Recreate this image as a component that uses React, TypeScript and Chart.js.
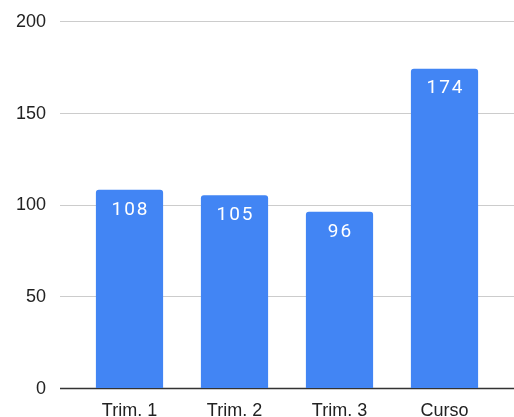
import React, { useEffect, useRef } from "react";
import { Chart, registerables } from "chart.js";

Chart.register(...registerables);

const categories = ["Trim. 1", "Trim. 2", "Trim. 3", "Curso"];
const values = [108, 105, 96, 174];
const yTicks = [0, 50, 100, 150, 200];

const BAR_COLOR = "#4285F4";

const fullGridPlugin = {
  id: "fullGrid",
  beforeDatasetsDraw(chart: any) {
    const { ctx, scales, width } = chart;
    const y = scales.y;
    const left = y.right - 17;
    ctx.save();
    yTicks.forEach((v) => {
      const py = Math.round(y.getPixelForValue(v)) + 0.5;
      ctx.beginPath();
      ctx.strokeStyle = v === 0 ? "#333333" : "#cccccc";
      ctx.lineWidth = v === 0 ? 1.5 : 1;
      ctx.moveTo(left, py);
      ctx.lineTo(width, py);
      ctx.stroke();
    });
    ctx.restore();
  },
};

const valueLabelPlugin = {
  id: "valueLabels",
  afterDatasetsDraw(chart: any) {
    const { ctx } = chart;
    const meta = chart.getDatasetMeta(0);
    ctx.save();
    ctx.fillStyle = "#ffffff";
    ctx.font = "19px Roboto";
    (ctx as any).letterSpacing = "2px";
    ctx.textAlign = "center";
    ctx.textBaseline = "middle";
    meta.data.forEach((bar: any, i: number) => {
      ctx.fillText(String(values[i]), bar.x + 1, bar.y + 20);
    });
    ctx.restore();
  },
};

export default function App() {
  const ref = useRef<HTMLCanvasElement>(null);
  useEffect(() => {
    document.body.style.margin = "0";
    const chart = new Chart(ref.current!, {
      type: "bar",
      data: {
        labels: categories,
        datasets: [
          {
            data: values,
            backgroundColor: BAR_COLOR,
            borderRadius: { topLeft: 3, topRight: 3, bottomLeft: 0, bottomRight: 0 },
            borderSkipped: "bottom",
            categoryPercentage: 0.64,
            barPercentage: 1,
          },
        ],
      },
      options: {
        animation: false,
        responsive: false,
        devicePixelRatio: 1,
        layout: { padding: { left: 14, right: 17, top: 0, bottom: 0 } },
        plugins: { legend: { display: false }, tooltip: { enabled: false } },
        scales: {
          x: {
            grid: { display: false, drawTicks: false },
            border: { display: false },
            afterFit: (axis: any) => {
              axis.height = 44;
              axis.paddingLeft = 0;
              axis.paddingRight = 0;
            },
            ticks: {
              color: "#222222",
              font: { family: "'Liberation Sans', Arial", size: 18 },
              padding: 12,
            },
          },
          y: {
            min: 0,
            max: 200,
            afterBuildTicks: (axis: any) => {
              axis.ticks = yTicks.map((v) => ({ value: v }));
            },
            afterFit: (axis: any) => {
              axis.width = 63;
              axis.paddingTop = 21;
              axis.paddingBottom = 0;
            },
            grid: { display: false, drawTicks: false },
            border: { display: false },
            ticks: {
              color: "#222222",
              font: { family: "'Liberation Sans', Arial", size: 18 },
              padding: 31,
              labelOffset: 1,
            },
          },
        },
      },
      plugins: [fullGridPlugin, valueLabelPlugin],
    });
    return () => chart.destroy();
  }, []);
  return (
    <div style={{ width: 514, height: 417, overflow: "hidden", position: "relative" }}>
      <canvas ref={ref} width={514} height={432} style={{ display: "block" }} />
    </div>
  );
}
